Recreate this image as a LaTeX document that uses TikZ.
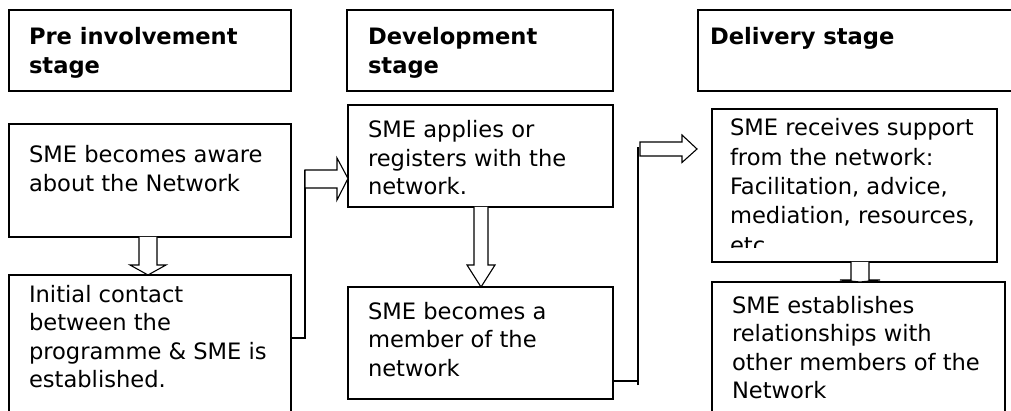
\documentclass[tikz,border=0pt]{standalone}
\usepackage{fontspec}
\setmainfont{DejaVu Sans}
\usetikzlibrary{calc}
% first-line strut: fixes the distance from a text node's top to its first baseline
\newcommand\fst{\rule{0pt}{20pt}}
\tikzset{
  box/.style={draw=black, line width=1.3pt, rectangle, inner sep=0pt, outer sep=0pt},
  txt/.style={anchor=north west, inner sep=0pt, outer sep=0pt, align=left,
              font=\fontsize{22.6}{28.5}\selectfont},
  head/.style={txt, font=\fontsize{22.6}{28.5}\selectfont\bfseries},
  blockarrow/.style={draw=black, line width=1.1pt, fill=white, line join=miter},
  conn/.style={draw=black, line width=1.1pt}
}
\begin{document}
\begin{tikzpicture}[x=1pt,y=-1pt]
\useasboundingbox (0,0) rectangle (1011,411);
\clip (0,0) rectangle (1011,411);

% stage headers
\node[box, minimum width=282, minimum height=81] (h1) at (150,50.5) {};
\node[box, minimum width=266, minimum height=81] (h2) at (480,50.5) {};
\node[box, minimum width=322, minimum height=81] (h3) at (859,50.5) {};
\node[head] (th1) at ($(h1.north west)+(20,15)$) {\fst Pre involvement\\stage};
\node[head] (th2) at ($(h2.north west)+(21,15)$) {\fst Development\\stage};
\node[head] (th3) at ($(h3.north west)+(12,15)$) {\fst Delivery stage};

% step boxes
\node[box, minimum width=282, minimum height=113] (a1) at (150,180.5) {};
\node[box, minimum width=282, minimum height=155] (b1) at (150,352.5) {};
\node[box, minimum width=265, minimum height=102] (a2) at (480.5,156) {};
\node[box, minimum width=265, minimum height=112] (b2) at (480.5,343) {};
\node[box, minimum width=285, minimum height=153] (a3) at (854.5,185.5) {};
\node[box, minimum width=293, minimum height=148] (b3) at (858.5,356) {};

\node[txt] (ta1) at ($(a1.north west)+(20,19)$) {\fst SME becomes aware\\about the Network};
\node[txt] (tb1) at ($(b1.north west)+(20,7)$) {\fst Initial contact\\between the\\programme \& SME is\\established.};
\node[txt] (ta2) at ($(a2.north west)+(20,13)$) {\fst SME applies or\\registers with the\\network.};
\node[txt] (tb2) at ($(b2.north west)+(20,12)$) {\fst SME becomes a\\member of the\\network};
% the last line of this box runs past its text area and is cut off
\begin{scope}
  \clip ($(a3.north west)$) rectangle ($(a3.south east)+(0,-14)$);
  \node[txt, font=\fontsize{22.6}{29.3}\selectfont] (ta3) at ($(a3.north west)+(18,7)$)
    {\fst SME receives support\\from the network:\\Facilitation, advice,\\mediation, resources,\\etc};
\end{scope}
\node[txt] (tb3) at ($(b3.north west)+(20,11)$) {\fst SME establishes\\relationships with\\other members of the\\Network};

% downward block arrows inside each column
\draw[blockarrow] ($(a1.south)+(-11,0)$) -- ++(0,28) -- ++(-9,0) -- ($(b1.north)+(-2,0)$)
  -- ++(18,-10) -- ++(-9,0) -- ++(0,-28);
\draw[blockarrow] ($(a2.south)+(-6.5,0)$) -- ++(0,58) -- ++(-7,0) -- ($(b2.north)+(0.5,0)$)
  -- ++(14,-22) -- ++(-7,0) -- ++(0,-58);
\draw[blockarrow] ($(a3.south)+(-3.5,0)$) -- ++(0,18) -- ++(-11,0) -- ($(b3.north)+(1.5,0)$)
  -- ++(20,-2) -- ++(-11,0) -- ++(0,-18);

% elbow from the first column into the development stage
\coordinate (e1) at ($(b1.north east)+(0,63)$);
\coordinate (p1) at ($(a2.north west)+(0,73.5)$);
\draw[conn] (e1) -| ($(p1)+(-43,-8.5)$);
\draw[blockarrow] ($(p1)+(-43,-8.5)$) -- ++(32,0) -- ++(0,-12) -- (p1) -- ++(-11,21.5)
  -- ++(0,-12) -- ++(-32,0) -- cycle;

% elbow from the second column into the delivery stage
\coordinate (e2) at ($(b2.north east)+(0,94)$);
\coordinate (p2) at ($(a3.north west)+(-15,40)$);
\draw[conn] (e2) -- ++(25,0);
\draw[conn] ($(e2)+(25,4)$) -- ++(0,-238);
\draw[blockarrow] ($(p2)+(-57,-7)$) -- ++(42,0) -- ++(0,-7) -- (p2) -- ++(-15,13.5)
  -- ++(0,-6.5) -- ++(-42,0) -- cycle;
\end{tikzpicture}
\end{document}
